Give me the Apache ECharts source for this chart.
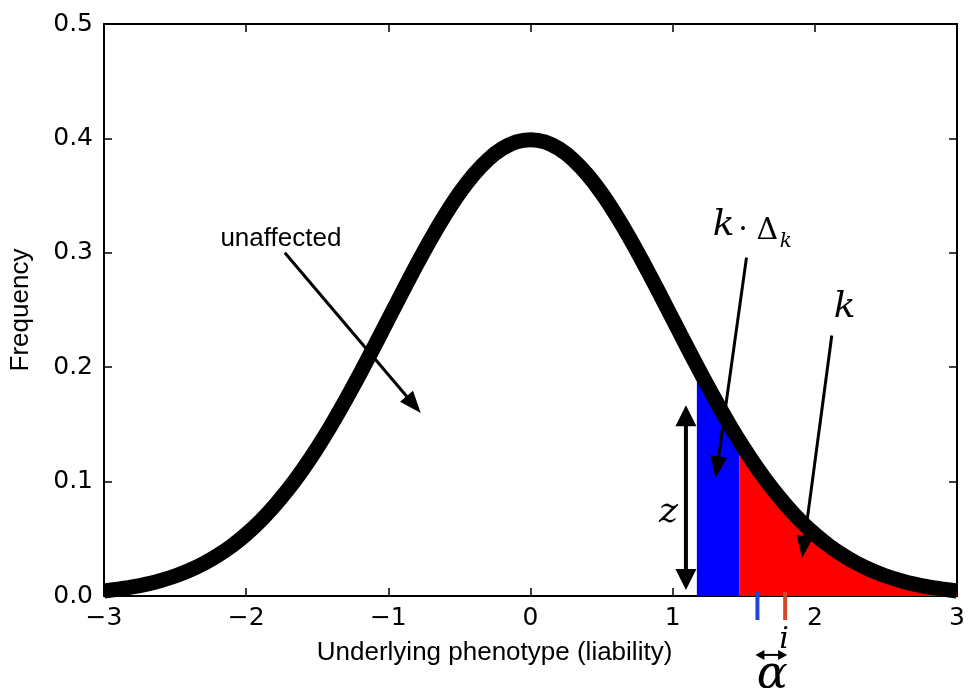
<!DOCTYPE html>
<html>
<head>
<meta charset="utf-8">
<script src="https://cdn.jsdelivr.net/npm/echarts@6/dist/echarts.min.js"></script>
<style>
  html, body { margin: 0; padding: 0; background: #fff; }
  #main { width: 968px; height: 688px; }
</style>
</head>
<body>
<div id="main"></div>
<script>
// liability axis and the curve values
var liability = [-3.0, -2.9, -2.8, -2.7, -2.6, -2.5, -2.4, -2.3, -2.2, -2.1,
  -2.0, -1.9, -1.8, -1.7, -1.6, -1.5, -1.4, -1.3, -1.2, -1.1,
  -1.0, -0.9, -0.8, -0.7, -0.6, -0.5, -0.4, -0.3, -0.2, -0.1,
  0.0, 0.1, 0.2, 0.3, 0.4, 0.5, 0.6, 0.7, 0.8, 0.9,
  1.0, 1.1, 1.2, 1.3, 1.4, 1.5, 1.6, 1.7, 1.8, 1.9,
  2.0, 2.1, 2.2, 2.3, 2.4, 2.5, 2.6, 2.7, 2.8, 2.9, 3.0];
var frequency = [0.0044, 0.0060, 0.0079, 0.0104, 0.0136, 0.0175, 0.0224, 0.0283, 0.0355, 0.0440,
  0.0540, 0.0656, 0.0790, 0.0940, 0.1109, 0.1295, 0.1497, 0.1714, 0.1942, 0.2179,
  0.2420, 0.2661, 0.2897, 0.3123, 0.3332, 0.3521, 0.3683, 0.3814, 0.3910, 0.3970,
  0.3989, 0.3970, 0.3910, 0.3814, 0.3683, 0.3521, 0.3332, 0.3123, 0.2897, 0.2661,
  0.2420, 0.2179, 0.1942, 0.1714, 0.1497, 0.1295, 0.1109, 0.0940, 0.0790, 0.0656,
  0.0540, 0.0440, 0.0355, 0.0283, 0.0224, 0.0175, 0.0136, 0.0104, 0.0079, 0.0060, 0.0044];

// band edges: blue from old threshold to new one, red beyond
var thresholds = [1.17, 1.47];
var thresholdFreq = [0.2012, 0.1354];

// small marks under the axis (blue / red means)
var meanMarks = [1.596, 1.791];

var curve = liability.map(function (x, i) { return [x, frequency[i]]; });

var blueArea = [[thresholds[0], thresholdFreq[0]]];
var redArea = [[thresholds[1], thresholdFreq[1]]];
curve.forEach(function (p) {
  if (p[0] > thresholds[0] && p[0] < thresholds[1]) blueArea.push(p);
  if (p[0] > thresholds[1]) redArea.push(p);
});
blueArea.push([thresholds[1], thresholdFreq[1]]);

var tickFont = { color: '#000', fontFamily: 'DejaVu Sans', fontSize: 25 };

var myChart = echarts.init(document.getElementById('main'));

var option = {
  backgroundColor: '#fff',
  animation: false,
  grid: { left: 104, right: 5, top: 24, bottom: 92 },
  xAxis: [{
    type: 'value', min: -3, max: 3, interval: 1,
    name: 'Underlying phenotype (liability)',
    nameLocation: 'middle', nameGap: 44,
    nameTextStyle: { color: '#000', fontFamily: 'Liberation Sans', fontSize: 26, padding: [0, 72, 0, 0] },
    axisLine: { onZero: false, lineStyle: { color: '#000', width: 2 } },
    axisTick: { inside: true, length: 8, lineStyle: { color: '#000', width: 1.5 } },
    axisLabel: Object.assign({ margin: 10, formatter: function (v) {
      return (v < 0 ? '\u2212' + Math.abs(v) : String(v));
    } }, tickFont),
    splitLine: { show: false }
  }, {
    type: 'value', min: -3, max: 3, interval: 1, position: 'top',
    axisLine: { onZero: false, lineStyle: { color: '#000', width: 2 } },
    axisTick: { inside: true, length: 8, lineStyle: { color: '#000', width: 1.5 } },
    axisLabel: { show: false },
    splitLine: { show: false }
  }],
  yAxis: [{
    type: 'value', min: 0, max: 0.5, interval: 0.1,
    name: 'Frequency',
    nameLocation: 'middle', nameGap: 70, nameRotate: 90,
    nameTextStyle: { color: '#000', fontFamily: 'Liberation Sans', fontSize: 26 },
    axisLine: { onZero: false, lineStyle: { color: '#000', width: 2 } },
    axisTick: { inside: true, length: 8, lineStyle: { color: '#000', width: 1.5 } },
    axisLabel: Object.assign({ margin: 11, formatter: function (v) { return v.toFixed(1); } }, tickFont),
    splitLine: { show: false }
  }, {
    type: 'value', min: 0, max: 0.5, interval: 0.1, position: 'right',
    axisLine: { onZero: false, lineStyle: { color: '#000', width: 2 } },
    axisTick: { inside: true, length: 8, lineStyle: { color: '#000', width: 1.5 } },
    axisLabel: { show: false },
    splitLine: { show: false }
  }],
  series: [
    {
      name: 'blue', type: 'line', data: blueArea, showSymbol: false, z: 1,
      lineStyle: { width: 0 }, areaStyle: { color: '#0000ff', opacity: 1 }
    },
    {
      name: 'red', type: 'line', data: redArea, showSymbol: false, z: 1,
      lineStyle: { width: 0 }, areaStyle: { color: '#ff0000', opacity: 1 }
    },
    {
      name: 'liability', type: 'line', data: curve, showSymbol: false, z: 3,
      smooth: 0.2,
      lineStyle: { color: '#000', width: 15, join: 'round' }
    }
  ]
};

myChart.setOption(option);

// annotation helpers (positions given in data coords)
function px(x, y) { return myChart.convertToPixel({ gridIndex: 0 }, [x, y]); }

function arrow(a, b, w, headL, headW, both) {
  var p0 = px(a[0], a[1]), p1 = px(b[0], b[1]);
  var dx = p1[0] - p0[0], dy = p1[1] - p0[1];
  var len = Math.sqrt(dx * dx + dy * dy);
  var ux = dx / len, uy = dy / len, nx = -uy, ny = ux;
  var els = [];
  function head(tip, dir) {
    var bx = tip[0] - dir * ux * headL, by = tip[1] - dir * uy * headL;
    els.push({
      type: 'polygon', z: 20,
      shape: { points: [tip, [bx + nx * headW / 2, by + ny * headW / 2], [bx - nx * headW / 2, by - ny * headW / 2]] },
      style: { fill: '#000' }
    });
  }
  var s = both ? [p0[0] + ux * headL * 0.8, p0[1] + uy * headL * 0.8] : p0;
  var e = [p1[0] - ux * headL * 0.8, p1[1] - uy * headL * 0.8];
  els.push({ type: 'line', z: 19, shape: { x1: s[0], y1: s[1], x2: e[0], y2: e[1] }, style: { stroke: '#000', lineWidth: w } });
  head(p1, 1);
  if (both) head(p0, -1);
  return els;
}

function label(x, y, text, font) {
  var p = px(x, y);
  return {
    type: 'text', z: 21, x: p[0], y: p[1],
    style: { text: text, font: font, fill: '#000', align: 'center', verticalAlign: 'middle' }
  };
}

var serifIt = 'italic 36px "DejaVu Serif"';
var g = [];
g.push(label(-1.756, 0.3124, 'unaffected', '26px "Liberation Sans"'));
g = g.concat(arrow([-1.728, 0.300], [-0.772, 0.160], 3, 22, 17));

// k · Δ_k
g.push(label(1.358, 0.3237, 'k', serifIt));
g.push(label(1.495, 0.3194, '\u00b7', '30px "DejaVu Serif"'));
g.push(label(1.665, 0.3190, '\u0394', '30px "DejaVu Serif"'));
g.push(label(1.795, 0.3100, 'k', 'italic 20px "DejaVu Serif"'));
g = g.concat(arrow([1.519, 0.2958], [1.302, 0.1030], 3, 22, 17));

g.push(label(2.21, 0.2522, 'k', serifIt));
g = g.concat(arrow([2.119, 0.2277], [1.910, 0.0332], 3, 22, 17));

g.push(label(0.97, 0.0733, 'z', serifIt));
g = g.concat(arrow([1.093, 0.1667], [1.093, 0.0052], 4, 21, 21, true));

// marks under the axis
[['#2444d8', meanMarks[0]], ['#d9472b', meanMarks[1]]].forEach(function (m) {
  var a = px(m[1], 0.0035), b = px(m[1], -0.021);
  g.push({ type: 'line', z: 18, shape: { x1: a[0], y1: a[1], x2: b[0], y2: b[1] }, style: { stroke: m[0], lineWidth: 4 } });
});
g.push(label(1.784, -0.0385, 'i', 'italic 30px "DejaVu Serif"'));
g = g.concat(arrow([1.582, -0.0515], [1.805, -0.0515], 2, 9, 10, true));
g.push(label(1.70, -0.0700, '\u03b1', 'italic 46px "DejaVu Serif"'));

myChart.setOption({ graphic: g });
</script>
</body>
</html>
